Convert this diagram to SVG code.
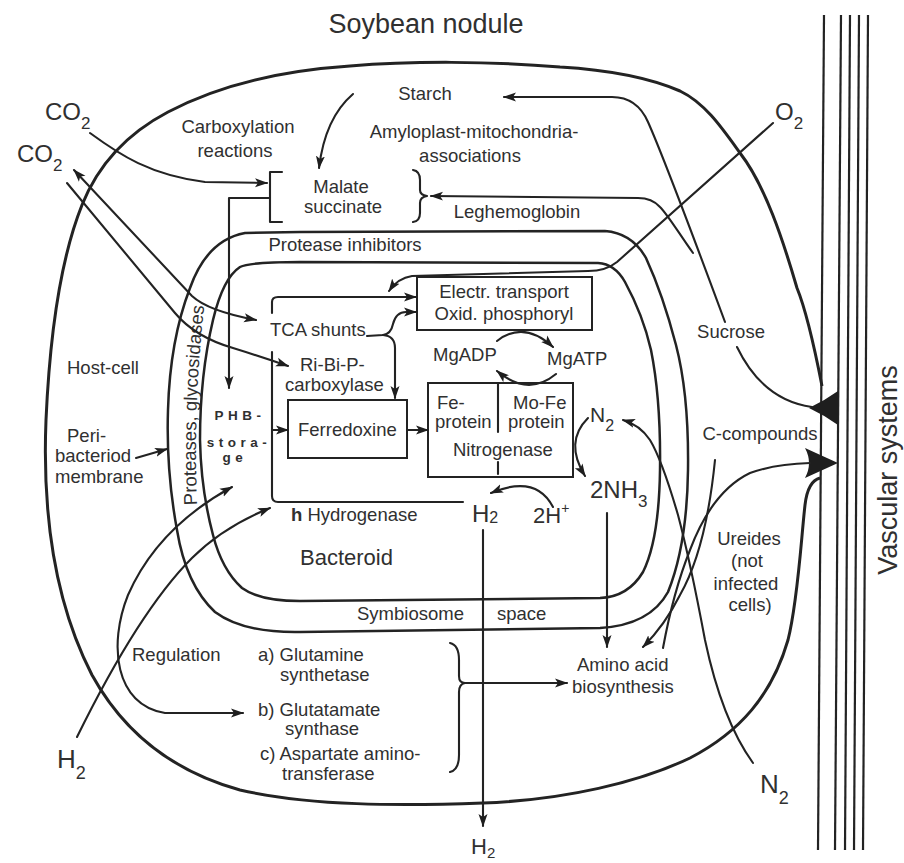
<svg xmlns="http://www.w3.org/2000/svg" width="904" height="863" viewBox="0 0 904 863">
<defs>
<style>
.ln{fill:none;stroke:#232323;stroke-width:2.1;stroke-linecap:round;stroke-linejoin:round}
.thick{fill:none;stroke:#232323;stroke-width:3;stroke-linejoin:round}
.mem{fill:none;stroke:#232323;stroke-width:2.5;stroke-linejoin:round}
.box{fill:none;stroke:#232323;stroke-width:2}
.vas{stroke:#232323;stroke-width:2.2}
.t{font-family:"Liberation Sans",Arial,Helvetica,sans-serif;font-size:18.5px;fill:#303030}
.big{font-size:24px}
.phb{font-family:"Liberation Sans",Arial,sans-serif;font-size:13.5px;font-weight:bold;letter-spacing:4.5px;fill:#303030}
.fill{fill:#1e1e1e;stroke:none}
</style>
<marker id="ah" markerUnits="userSpaceOnUse" viewBox="0 0 13 10" markerWidth="13" markerHeight="10" refX="12" refY="5" orient="auto-start-reverse">
<path d="M0,0.5 L13,5 L0,9.5 L3,5 Z" fill="#1e1e1e"/>
</marker>
</defs>
<rect width="904" height="863" fill="#ffffff"/>

<text class="t" x="426" y="33" text-anchor="middle" style="font-size:27px">Soybean nodule</text>

<!-- host cell outline -->
<g id="host-cell">
<path class="thick" d="M822,386 C814,345 806,310 797,288 C783,240 765,185 740,153 C722,128 705,103 680,91 C650,78 610,70 560,67 C490,61 410,61 350,66 C290,70 225,82 168,112 C128,133 98,165 82,205 C62,255 50,330 46,420 C42,520 56,605 92,675 C125,735 175,772 240,790 C310,806 400,806 483,803 C565,800 640,782 690,758 C740,732 772,695 788,640 C798,600 801,540 805,505 C807,488 812,480 820,478"/>
<text class="t" x="67" y="374">Host-cell</text>
<text class="t" x="67" y="442">Peri-</text>
<text class="t" x="55" y="462">bacteriod</text>
<text class="t" x="55" y="483">membrane</text>
</g>

<!-- vascular bundle -->
<g id="vascular">
<line class="vas" x1="824" y1="15" x2="818" y2="850" stroke-width="3.4"/>
<line class="vas" x1="841" y1="15" x2="835" y2="850" stroke-width="2.6"/>
<line class="vas" x1="850" y1="15" x2="845" y2="850"/>
<line class="vas" x1="859" y1="15" x2="854" y2="850"/>
<line class="vas" x1="868" y1="15" x2="863" y2="850"/>
<path class="fill" d="M809,408 Q824,401 838,391 L838,425 Q824,415 809,408 Z"/>
<path class="fill" d="M805,448 L838,463 L805,478 Q813,463 805,448 Z"/>
<text class="t" transform="translate(897,470) rotate(-90)" text-anchor="middle" style="font-size:27px">Vascular systems</text>
</g>

<!-- peribacteroid membrane -->
<g id="peribacteroid">
<path class="mem" d="M300,232 L605,231 Q632,233 646,258 Q663,295 676,345 Q689,395 688,470 Q687,545 668,592 Q650,625 600,628 L300,632 Q243,633 215,612 Q186,585 177,530 Q166,470 168,410 Q170,340 190,288 Q207,240 245,233 Z"/>
<path id="band" d="M197,505 Q193,400 205,300" fill="none"/>
<text class="t"><textPath href="#band">Proteases, glycosidases</textPath></text>
<text class="t" x="345" y="251" text-anchor="middle">Protease inhibitors</text>
<text class="t" x="357" y="620">Symbiosome</text>
<text class="t" x="497" y="620">space</text>
</g>

<!-- bacteroid -->
<g id="bacteroid">
<path class="mem" d="M300,262 L598,263 Q615,264 625,282 Q643,315 651,350 Q661,400 660,470 Q659,540 643,572 Q628,597 600,598 L300,601 Q260,601 242,588 Q222,570 213,535 Q201,490 200,440 Q200,375 213,320 Q223,278 240,267 Q250,262 300,262 Z"/>
<text class="t" x="300" y="565" style="font-size:22px">Bacteroid</text>
</g>

<g id="phb-storage">
<text class="phb" x="240" y="420" text-anchor="middle">PHB-</text>
<text class="phb" x="239" y="447" text-anchor="middle">stora-</text>
<text class="phb" x="235" y="462" text-anchor="middle">ge</text>
</g>

<g id="malate">
<path class="ln" d="M282,172 L270,172 L270,222 L282,222"/>
<path class="ln" d="M413,170 Q420,171 420,180 L420,190 Q420,195 427,196 Q420,197 420,203 L420,213 Q420,221 413,222"/>
<text class="t" x="341" y="193" text-anchor="middle">Malate</text>
<text class="t" x="343" y="213" text-anchor="middle">succinate</text>
</g>

<g id="electron-transport">
<rect class="box" x="417" y="277" width="175" height="53"/>
<text class="t" x="504" y="298" text-anchor="middle">Electr. transport</text>
<text class="t" x="504" y="320" text-anchor="middle">Oxid. phosphoryl</text>
</g>

<g id="tca">
<text class="t" x="270" y="336">TCA shunts</text>
</g>

<g id="rubisco">
<text class="t" x="300" y="371">Ri-Bi-P-</text>
<text class="t" x="285" y="391">carboxylase</text>
</g>

<g id="ferredoxine">
<rect class="box" x="288" y="400" width="119" height="58"/>
<text class="t" x="298" y="436">Ferredoxine</text>
</g>

<g id="nitrogenase">
<rect class="box" x="428" y="383" width="145" height="94"/>
<path class="ln" d="M498,383 L498,432 M498,462 L498,474"/>
<text class="t" x="437" y="409">Fe-</text>
<text class="t" x="435" y="428">protein</text>
<text class="t" x="513" y="409">Mo-Fe</text>
<text class="t" x="508" y="428">protein</text>
<text class="t" x="453" y="456">Nitrogenase</text>
</g>

<g id="atp">
<text class="t" x="433" y="361">MgADP</text>
<text class="t" x="547" y="365">MgATP</text>
</g>

<g id="hydrogenase">
<text class="t" x="291" y="521"><tspan font-weight="bold">h</tspan> Hydrogenase</text>
</g>

<g id="enzymes">
<text class="t" x="258" y="661">a) Glutamine</text>
<text class="t" x="280" y="681">synthetase</text>
<text class="t" x="258" y="716">b) Glutatamate</text>
<text class="t" x="285" y="735">synthase</text>
<text class="t" x="260" y="760">c) Aspartate amino-</text>
<text class="t" x="282" y="780">transferase</text>
<path class="ln" d="M450,643 Q459,645 459,660 L459,676 Q459,683 465,683 Q459,684 459,692 L459,755 Q459,770 450,772"/>
</g>

<g id="amino-acid">
<text class="t" x="577" y="671">Amino acid</text>
<text class="t" x="572" y="693">biosynthesis</text>
</g>

<g id="labels">
<text class="t" x="238" y="133" text-anchor="middle">Carboxylation</text>
<text class="t" x="235" y="157" text-anchor="middle">reactions</text>
<text class="t" x="425" y="100" text-anchor="middle">Starch</text>
<text class="t" x="474" y="138" text-anchor="middle">Amyloplast-mitochondria-</text>
<text class="t" x="470" y="162" text-anchor="middle">associations</text>
<text class="t" x="517" y="218" text-anchor="middle">Leghemoglobin</text>
<text class="t" x="731" y="338" text-anchor="middle">Sucrose</text>
<text class="t" x="760" y="440" text-anchor="middle">C-compounds</text>
<text class="t" x="749" y="545" text-anchor="middle">Ureides</text>
<text class="t" x="747" y="567" text-anchor="middle">(not</text>
<text class="t" x="746" y="590" text-anchor="middle">infected</text>
<text class="t" x="750" y="611" text-anchor="middle">cells)</text>
<text class="t" x="132" y="661">Regulation</text>
<text class="t big" x="45" y="120">CO<tspan font-size="17" dy="9">2</tspan></text>
<text class="t big" x="17" y="162">CO<tspan font-size="17" dy="9">2</tspan></text>
<text class="t big" x="775" y="120">O<tspan font-size="17" dy="9">2</tspan></text>
<text class="t" x="590" y="422" style="font-size:21px">N<tspan font-size="16" dy="9">2</tspan></text>
<text class="t big" x="590" y="498">2NH<tspan font-size="17" dy="9">3</tspan></text>
<text class="t" x="533" y="523" style="font-size:22px">2H<tspan font-size="14" dy="-10">+</tspan></text>
<text class="t big" x="472" y="522">H<tspan font-size="16" dy="1">2</tspan></text>
<text class="t" x="57" y="768" style="font-size:26px">H<tspan font-size="18" dy="11">2</tspan></text>
<text class="t" x="760" y="793" style="font-size:26px">N<tspan font-size="18" dy="11">2</tspan></text>
<text class="t" x="471" y="854" style="font-size:22px">H<tspan font-size="15" dy="4">2</tspan></text>
</g>

<g id="connectors">
<!-- carbon inputs -->
<path class="ln" d="M90,133 C120,155 150,175 205,182 L267,183" marker-end="url(#ah)"/>
<path class="ln" d="M353,94 Q325,118 319,168" marker-end="url(#ah)"/>
<path class="ln" d="M725,322 C705,268 665,160 648,122 Q637,97 612,97 L504,97" marker-end="url(#ah)"/>
<path class="ln" d="M693,253 C680,235 668,215 660,207 Q652,198 638,198 L431,196" marker-end="url(#ah)"/>
<path class="ln" d="M773,123 L617,262 Q606,271 588,271 L412,276 Q398,278 389,291" marker-end="url(#ah)"/>
<path class="ln" d="M737,347 C752,378 775,402 812,407"/>
<!-- CO2 exchange -->
<path class="ln" d="M74,170 L192,296 Q208,311 256,320" marker-start="url(#ah)" marker-end="url(#ah)"/>
<path class="ln" d="M67,183 L175,313 Q195,337 233,348 Q262,357 288,366" marker-end="url(#ah)"/>
<!-- malate to PHB -->
<path class="ln" d="M270,198 L229,198 L229,388" marker-end="url(#ah)"/>
<!-- TCA routes -->
<path class="ln" d="M272,313 L272,302 Q272,297 278,297 L416,297" marker-end="url(#ah)"/>
<path class="ln" d="M367,336 L383,335 Q391,334 393,324 Q396,312 406,312 L416,312" marker-end="url(#ah)"/>
<path class="ln" d="M383,335 Q395,336 395,348 L395,398" marker-end="url(#ah)"/>
<path class="ln" d="M272,352 L272,496 Q272,502 278,502 L463,502"/>
<path class="ln" d="M272,430 L288,430" marker-end="url(#ah)"/>
<path class="ln" d="M407,430 L428,430" marker-end="url(#ah)"/>
<!-- ATP cycle -->
<path class="ln" d="M497,341 Q524,320 553,347" marker-end="url(#ah)"/>
<path class="ln" d="M556,374 Q528,397 497,371" marker-end="url(#ah)"/>
<!-- nitrogen and hydrogen -->
<path class="ln" d="M588,418 Q564,442 585,476" marker-end="url(#ah)"/>
<path class="ln" d="M553,507 Q536,474 491,493" marker-end="url(#ah)"/>
<path class="ln" d="M483,530 L483,826" marker-end="url(#ah)"/>
<path class="ln" d="M607,513 L607,647" marker-end="url(#ah)"/>
<path class="ln" d="M753,763 Q722,720 705,640 Q690,560 678,515 Q662,460 650,440 Q640,425 623,420" marker-end="url(#ah)"/>
<path class="ln" d="M715,460 C710,510 700,560 680,595 Q665,625 643,647" marker-end="url(#ah)"/>
<path class="ln" d="M663,648 C670,610 678,580 690,550 C705,510 725,485 750,473 Q775,464 810,463"/>
<path class="ln" d="M465,683 L567,683" marker-end="url(#ah)"/>
<path class="ln" d="M232,487 C190,510 150,545 128,595 C108,645 115,705 165,713 L243,713" marker-start="url(#ah)" marker-end="url(#ah)"/>
<path class="ln" d="M77,737 C110,670 150,600 192,558 C215,535 240,520 270,508" marker-end="url(#ah)"/>
<path class="ln" d="M136,458 L167,449" marker-end="url(#ah)"/>
</g>
</svg>
